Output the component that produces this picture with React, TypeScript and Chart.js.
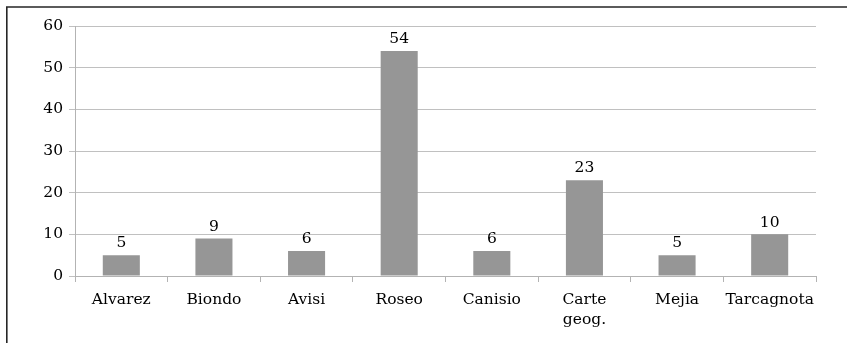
import React, { useEffect, useRef } from "react";
import { Chart, registerables } from "chart.js";

Chart.register(...registerables);

const categories: (string | string[])[] = [
  "Alvarez",
  "Biondo",
  "Avisi",
  "Roseo",
  "Canisio",
  ["Carte", "geog."],
  "Mejia",
  "Tarcagnota",
];
const counts = [5, 9, 6, 54, 6, 23, 5, 10];
const yTicks = [0, 10, 20, 30, 40, 50, 60];

const FONT = "'DejaVu Serif', serif";

// Frame around the whole chart, open at the right and bottom edges
const framePlugin = {
  id: "frame",
  beforeDraw(chart: Chart) {
    const ctx = chart.ctx;
    ctx.save();
    ctx.strokeStyle = "#262626";
    ctx.lineWidth = 1.6;
    ctx.beginPath();
    ctx.moveTo(6.8, chart.height + 2);
    ctx.lineTo(6.8, 7);
    ctx.lineTo(chart.width + 2, 7);
    ctx.stroke();
    ctx.restore();
  },
};

// Value written above each bar
const valueLabels = {
  id: "valueLabels",
  afterDatasetsDraw(chart: Chart) {
    const ctx = chart.ctx;
    const meta = chart.getDatasetMeta(0);
    ctx.save();
    ctx.font = `15.5px ${FONT}`;
    ctx.fillStyle = "#000";
    ctx.textAlign = "center";
    ctx.textBaseline = "bottom";
    meta.data.forEach((bar: any, i: number) => {
      ctx.fillText(String(counts[i]), bar.x, bar.y - 4);
    });
    ctx.restore();
  },
};

export default function App() {
  const ref = useRef<HTMLCanvasElement>(null);

  useEffect(() => {
    if (!ref.current) return;
    const chart = new Chart(ref.current, {
      type: "bar",
      data: {
        labels: categories,
        datasets: [
          {
            data: counts,
            backgroundColor: "#969696",
            borderWidth: 0,
            barPercentage: 0.4,
            categoryPercentage: 1,
          },
        ],
      },
      options: {
        animation: false,
        responsive: false,
        maintainAspectRatio: false,
        layout: { padding: { left: 0, top: 26, right: 31, bottom: 0 } },
        plugins: {
          legend: { display: false },
          tooltip: { enabled: false },
        },
        scales: {
          x: {
            grid: {
              drawOnChartArea: false,
              drawTicks: true,
              tickLength: 6,
              color: "#b3b3b3",
              offset: true,
            },
            border: { display: true, color: "#b3b3b3", width: 1 },
            ticks: {
              color: "#000",
              font: { family: FONT, size: 15.5, lineHeight: 1.3 },
              padding: 8,
              maxRotation: 0,
              autoSkip: false,
            },
            afterFit(scale: any) {
              scale.height = 67;
            },
          },
          y: {
            min: 0,
            max: 60,
            afterBuildTicks(scale: any) {
              scale.ticks = yTicks.map((v) => ({ value: v }));
            },
            grid: {
              color: "#c0c0c0",
              tickLength: 6,
              drawTicks: true,
            },
            border: { display: true, color: "#b3b3b3", width: 1 },
            ticks: {
              color: "#000",
              font: { family: FONT, size: 15.5 },
              padding: 6,
            },
            afterFit(scale: any) {
              scale.width = 75;
            },
          },
        },
      },
      plugins: [framePlugin, valueLabels],
    });
    return () => chart.destroy();
  }, []);

  return (
    <div style={{ position: "fixed", left: 0, top: 0, width: 847, height: 343, background: "#fff" }}>
      <canvas ref={ref} width={847} height={343} style={{ display: "block" }} />
    </div>
  );
}
